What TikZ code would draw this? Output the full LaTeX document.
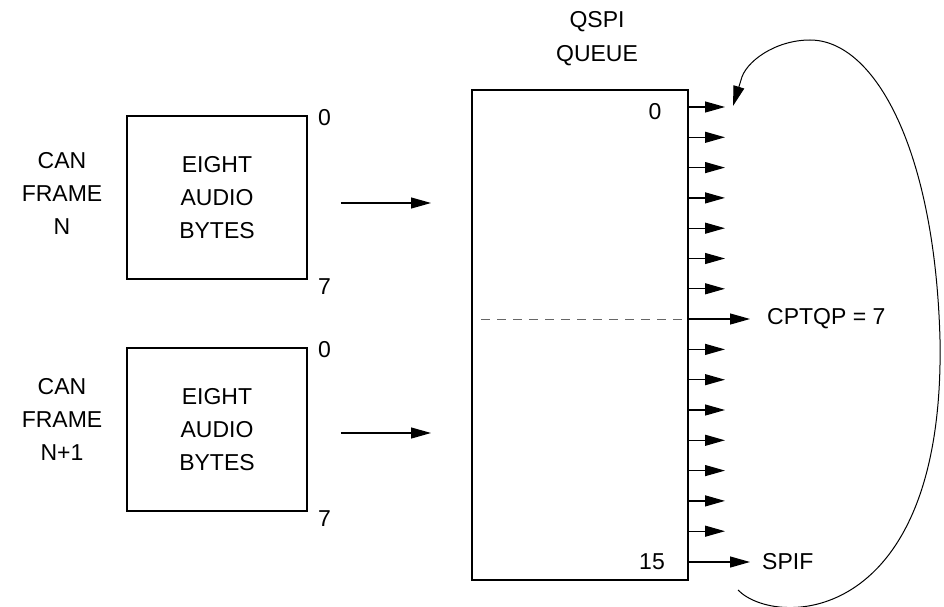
\documentclass[tikz,border=0pt]{standalone}
\usepackage{fontspec}
\setmainfont{Liberation Sans}
\usetikzlibrary{arrows.meta}

\begin{document}
\begin{tikzpicture}[x=1pt, y=-1pt,
        every node/.style={font=\fontsize{23}{33}\selectfont, inner sep=0pt},
        frame/.style={draw, line width=1.6pt, minimum width=180pt, minimum height=163pt, align=center},
        tip/.style={-{Triangle[length=20pt,width=11pt]}, line width=1.2pt}]
    \useasboundingbox (0,0) rectangle (944,607);

    \node (canA) [align=center] at (62,193) {CAN\\FRAME\\N};
    \node (frameA) [frame] at (217,197.5) {EIGHT\\AUDIO\\BYTES};
    \node (frameA0) [anchor=west] at ([xshift=10pt,yshift=-2pt]frameA.north east) {0};
    \node (frameA7) [anchor=west] at ([xshift=10pt,yshift=-7pt]frameA.south east) {7};

    \node (canB) [align=center] at (62,419) {CAN\\FRAME\\N+1};
    \node (frameB) [frame] at (217,429.5) {EIGHT\\AUDIO\\BYTES};
    \node (frameB0) [anchor=west] at ([xshift=10pt,yshift=-2pt]frameB.north east) {0};
    \node (frameB7) [anchor=west] at ([xshift=10pt,yshift=-7pt]frameB.south east) {7};

    \node (queue) [draw, line width=2pt, minimum width=216pt, minimum height=490pt] at (580,335) {};
    \node (qspi) at (597,22) {QSPI};
    \node (qname) at (597,56) {QUEUE};
    \node (first) at (655,112) {0};
    \node (last) at (652,562) {15};
    \node (cptqp) [anchor=west] at (767,319) {CPTQP = 7};
    \node (spif) [anchor=west] at (762,562) {SPIF};

    \draw[tip] ([xshift=33pt,yshift=-5.5pt]frameA.east) -- ([xshift=-40pt,yshift=-5.5pt]frameA.east -| queue.west);
    \draw[tip] ([xshift=33pt,yshift=-3.5pt]frameB.east) -- ([xshift=-40pt,yshift=-3.5pt]frameB.east -| queue.west);

    \foreach \i in {0,1,2,3,4,5,6,8,9,10,11,12,13,14} {
        \coordinate (row\i) at (688,107+30.3*\i);
        \draw[tip] (row\i) -- ++(37,0);
    }
    \draw[dashed, dash pattern=on 9pt off 7pt, gray!80!black, line width=1pt]
        ([xshift=10pt]queue.west |- cptqp) -- ([xshift=-6pt]queue.east |- cptqp);
    \draw[tip] (queue.east |- cptqp) -- ([xshift=-17pt]cptqp.west);
    \draw[tip] (queue.east |- spif) -- ([xshift=-12pt]spif.west);

    \coordinate (loopstart) at (738,590);
    \coordinate (loopend) at (733,106);
    \draw[tip, line width=1pt] (loopstart) .. controls (775,628) and (945,628) .. (940,340)
        .. controls (935,150) and (875,40) .. (810,40)
        .. controls (775,40) and (745,62) .. (741,80) -- (loopend);
\end{tikzpicture}
\end{document}
